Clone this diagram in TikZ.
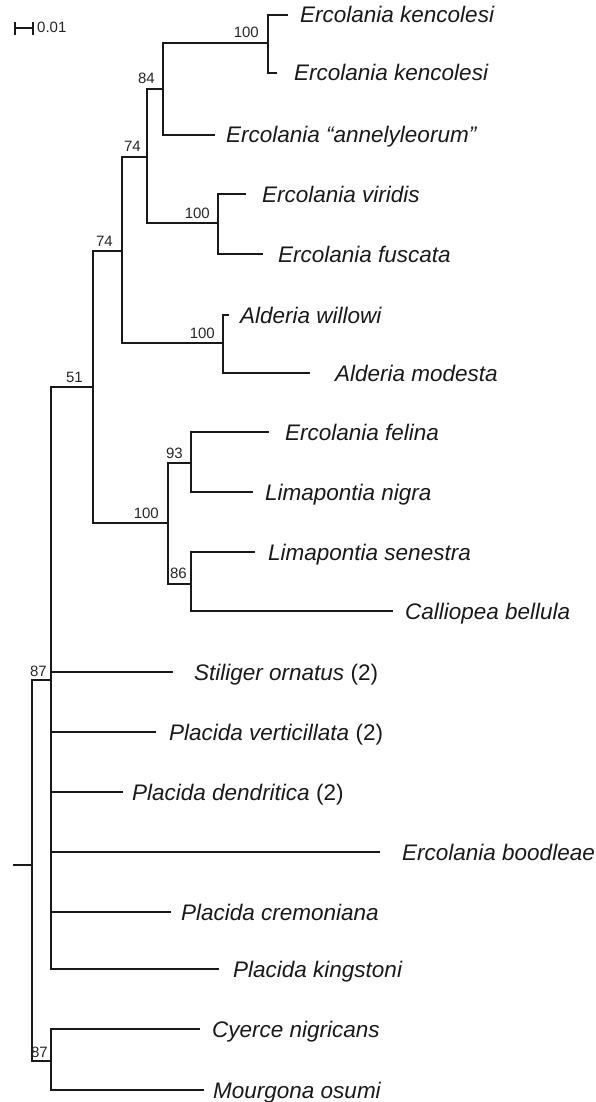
\documentclass[tikz,border=0pt]{standalone}
\usepackage{fontspec}
\setmainfont{Liberation Sans}
\begin{document}
\begin{tikzpicture}[x=1pt,y=-1pt,
  branch/.style={line width=2.5pt, color=black!90},
  taxon/.style={anchor=base west, inner sep=0pt, text=black!90, font=\fontsize{22.5}{27}\selectfont},
  boot/.style={anchor=base east, inner sep=0pt, text=black!85, font=\fontsize{15}{18}\selectfont}]
\useasboundingbox (0,0) rectangle (595,1102);
% scale bar
\coordinate (sbl) at (15,28); \coordinate (sbr) at (33,28);
\coordinate (sblt) at (15,22); \coordinate (sblb) at (15,35);
\coordinate (sbrt) at (33,22); \coordinate (sbrb) at (33,35);
\draw[branch] (sbl) -- (sbr);
\draw[branch, line width=2.2pt] (sblt) -- (sblb);
\draw[branch, line width=2.2pt] (sbrt) -- (sbrb);
\node[boot, anchor=base west] (sbt) at (37,33) {0.01};
% internal nodes
\coordinate (r0) at (13,865);
\coordinate (r) at (32,865);
\coordinate (i) at (51,680);
\coordinate (j) at (51,1061);
\coordinate (e) at (93,387);
\coordinate (d) at (122,251);
\coordinate (c) at (147,157);
\coordinate (b) at (163,89);
\coordinate (a) at (268,43);
\coordinate (vf) at (218,223);
\coordinate (al) at (223,343);
\coordinate (f) at (168,523);
\coordinate (g) at (191,463);
\coordinate (h) at (191,584);
% tip ends
\coordinate (k1) at (288,15);
\coordinate (k2) at (277,73);
\coordinate (an) at (215,135);
\coordinate (vi) at (246,194);
\coordinate (fu) at (263,254);
\coordinate (wi) at (229,315);
\coordinate (mo) at (310,373);
\coordinate (fe) at (269,432);
\coordinate (ni) at (253,492);
\coordinate (se) at (255,552);
\coordinate (be) at (393,611);
\coordinate (st) at (173,672);
\coordinate (ve) at (156,732);
\coordinate (de) at (123,792);
\coordinate (bo) at (380,852);
\coordinate (cr) at (171,912);
\coordinate (ki) at (219,969);
\coordinate (cy) at (200,1029);
\coordinate (mu) at (204,1090);
% branches
\draw[branch] (r0) -- (r);
\draw[branch] (r) |- (i);
\draw[branch] (r) |- (j);
\draw[branch] (j) |- (cy);
\draw[branch] (j) |- (mu);
\draw[branch] (i) |- (e);
\foreach \t in {st,ve,de,bo,cr,ki} {\draw[branch] (i) |- (\t);}
\draw[branch] (e) |- (d);
\draw[branch] (e) |- (f);
\draw[branch] (d) |- (c);
\draw[branch] (d) |- (al);
\draw[branch] (c) |- (b);
\draw[branch] (c) |- (vf);
\draw[branch] (b) |- (a);
\draw[branch] (b) |- (an);
\draw[branch] (a) |- (k1);
\draw[branch] (a) |- (k2);
\draw[branch] (vf) |- (vi);
\draw[branch] (vf) |- (fu);
\draw[branch] (al) |- (wi);
\draw[branch] (al) |- (mo);
\draw[branch] (f) |- (g);
\draw[branch] (f) |- (h);
\draw[branch] (g) |- (fe);
\draw[branch] (g) |- (ni);
\draw[branch] (h) |- (se);
\draw[branch] (h) |- (be);
% bootstrap labels
\node[boot] (la) at (259,38) {100};
\node[boot] (lb) at (155,84) {84};
\node[boot] (lc) at (141,152) {74};
\node[boot] (lvf) at (210,218) {100};
\node[boot] (ld) at (113,246) {74};
\node[boot] (lal) at (215,338) {100};
\node[boot] (le) at (83,382) {51};
\node[boot] (lf) at (159,518) {100};
\node[boot] (lg) at (183,458) {93};
\node[boot] (lh) at (187,578) {86};
\node[boot] (li) at (47,676) {87};
\node[boot] (lj) at (48,1057) {87};
% taxa
\node[taxon] (tk1) at (300,23) {\textit{Ercolania kencolesi}};
\node[taxon] (tk2) at (294,81) {\textit{Ercolania kencolesi}};
\node[taxon] (tan) at (226,143) {\textit{Ercolania “annelyleorum”}};
\node[taxon] (tvi) at (262,202) {\textit{Ercolania viridis}};
\node[taxon] (tfu) at (278,262) {\textit{Ercolania fuscata}};
\node[taxon] (twi) at (240,323) {\textit{Alderia willowi}};
\node[taxon] (tmo) at (335,381) {\textit{Alderia modesta}};
\node[taxon] (tfe) at (285,440) {\textit{Ercolania felina}};
\node[taxon] (tni) at (265,500) {\textit{Limapontia nigra}};
\node[taxon] (tse) at (268,560) {\textit{Limapontia senestra}};
\node[taxon] (tbe) at (405,619) {\textit{Calliopea bellula}};
\node[taxon] (tst) at (194,680) {\textit{Stiliger ornatus} (2)};
\node[taxon] (tve) at (169,740) {\textit{Placida verticillata} (2)};
\node[taxon] (tde) at (132,800) {\textit{Placida dendritica} (2)};
\node[taxon] (tbo) at (402,860) {\textit{Ercolania boodleae}};
\node[taxon] (tcr) at (181,920) {\textit{Placida cremoniana}};
\node[taxon] (tki) at (233,977) {\textit{Placida kingstoni}};
\node[taxon] (tcy) at (212,1037) {\textit{Cyerce nigricans}};
\node[taxon] (tmu) at (213,1098) {\textit{Mourgona osumi}};
\end{tikzpicture}
\end{document}
